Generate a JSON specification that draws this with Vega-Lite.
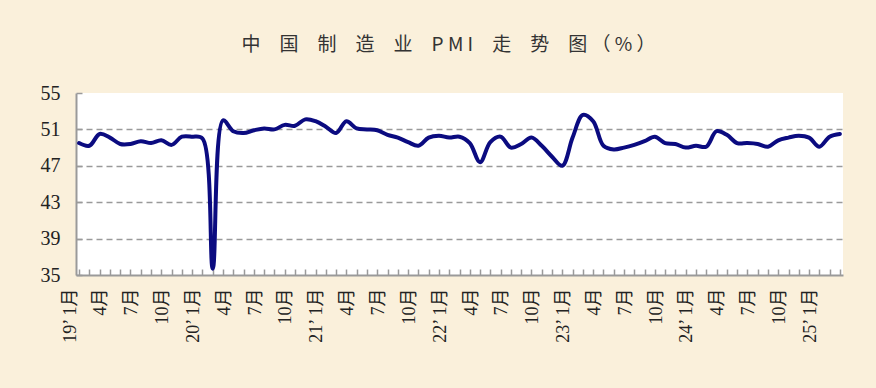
{
  "$schema": "https://vega.github.io/schema/vega-lite/v6.json",
  "autosize": {"type": "none"},
  "width": 767,
  "height": 182,
  "padding": {"left": 76, "top": 93, "right": 33, "bottom": 113},
  "background": "#FAF0DB",
  "title": {
    "text": "中　国　制　造　业　P M I　走　势　图 （ % ）",
    "font": "Noto Sans CJK SC",
    "fontSize": 19,
    "fontWeight": "normal",
    "color": "#333333",
    "anchor": "middle",
    "offset": 28,
    "dx": -11
  },
  "config": {
    "view": {"fill": "white", "stroke": null}
  },
  "data": {
    "values": [
      {"m": "2019-01", "pmi": 49.5}, {"m": "2019-02", "pmi": 49.2}, {"m": "2019-03", "pmi": 50.5}, {"m": "2019-04", "pmi": 50.1},
      {"m": "2019-05", "pmi": 49.4}, {"m": "2019-06", "pmi": 49.4}, {"m": "2019-07", "pmi": 49.7}, {"m": "2019-08", "pmi": 49.5},
      {"m": "2019-09", "pmi": 49.8}, {"m": "2019-10", "pmi": 49.3}, {"m": "2019-11", "pmi": 50.2}, {"m": "2019-12", "pmi": 50.2},
      {"m": "2020-01", "pmi": 50.0}, {"m": "2020-02", "pmi": 35.7}, {"m": "2020-03", "pmi": 52.0}, {"m": "2020-04", "pmi": 50.8},
      {"m": "2020-05", "pmi": 50.6}, {"m": "2020-06", "pmi": 50.9}, {"m": "2020-07", "pmi": 51.1}, {"m": "2020-08", "pmi": 51.0},
      {"m": "2020-09", "pmi": 51.5}, {"m": "2020-10", "pmi": 51.4}, {"m": "2020-11", "pmi": 52.1}, {"m": "2020-12", "pmi": 51.9},
      {"m": "2021-01", "pmi": 51.3}, {"m": "2021-02", "pmi": 50.6}, {"m": "2021-03", "pmi": 51.9}, {"m": "2021-04", "pmi": 51.1},
      {"m": "2021-05", "pmi": 51.0}, {"m": "2021-06", "pmi": 50.9}, {"m": "2021-07", "pmi": 50.4}, {"m": "2021-08", "pmi": 50.1},
      {"m": "2021-09", "pmi": 49.6}, {"m": "2021-10", "pmi": 49.2}, {"m": "2021-11", "pmi": 50.1}, {"m": "2021-12", "pmi": 50.3},
      {"m": "2022-01", "pmi": 50.1}, {"m": "2022-02", "pmi": 50.2}, {"m": "2022-03", "pmi": 49.5}, {"m": "2022-04", "pmi": 47.4},
      {"m": "2022-05", "pmi": 49.6}, {"m": "2022-06", "pmi": 50.2}, {"m": "2022-07", "pmi": 49.0}, {"m": "2022-08", "pmi": 49.4},
      {"m": "2022-09", "pmi": 50.1}, {"m": "2022-10", "pmi": 49.2}, {"m": "2022-11", "pmi": 48.0}, {"m": "2022-12", "pmi": 47.0},
      {"m": "2023-01", "pmi": 50.1}, {"m": "2023-02", "pmi": 52.6}, {"m": "2023-03", "pmi": 51.9}, {"m": "2023-04", "pmi": 49.2},
      {"m": "2023-05", "pmi": 48.8}, {"m": "2023-06", "pmi": 49.0}, {"m": "2023-07", "pmi": 49.3}, {"m": "2023-08", "pmi": 49.7},
      {"m": "2023-09", "pmi": 50.2}, {"m": "2023-10", "pmi": 49.5}, {"m": "2023-11", "pmi": 49.4}, {"m": "2023-12", "pmi": 49.0},
      {"m": "2024-01", "pmi": 49.2}, {"m": "2024-02", "pmi": 49.1}, {"m": "2024-03", "pmi": 50.8}, {"m": "2024-04", "pmi": 50.4},
      {"m": "2024-05", "pmi": 49.5}, {"m": "2024-06", "pmi": 49.5}, {"m": "2024-07", "pmi": 49.4}, {"m": "2024-08", "pmi": 49.1},
      {"m": "2024-09", "pmi": 49.8}, {"m": "2024-10", "pmi": 50.1}, {"m": "2024-11", "pmi": 50.3}, {"m": "2024-12", "pmi": 50.1},
      {"m": "2025-01", "pmi": 49.1}, {"m": "2025-02", "pmi": 50.2}, {"m": "2025-03", "pmi": 50.5}
    ]
  },
  "mark": {"type": "line", "interpolate": "catmull-rom", "color": "#0B0B80", "strokeWidth": 4, "strokeCap": "round", "strokeJoin": "round"},
  "encoding": {
    "x": {
      "field": "m",
      "type": "ordinal",
      "sort": null,
      "scale": {"type": "point", "padding": 0.3},
      "axis": {
        "title": null,
        "labelAngle": -90,
        "labelOffset": -9,
        "labelPadding": 19,
        "labelFont": "Liberation Serif, Noto Sans CJK SC",
        "labelFontSize": 18,
        "labelColor": "#222222",
        "labelOverlap": false,
        "labelExpr": "(toNumber(substring(datum.value,5,7)) % 3 == 1) ? ((substring(datum.value,5,7) == '01' ? substring(datum.value,2,4) + '’ ' : '') + toNumber(substring(datum.value,5,7)) + '月') : ''",
        "domainColor": "#9A9A9A",
        "domainWidth": 2,
        "tickColor": "#9A9A9A",
        "tickWidth": 1.5,
        "tickSize": -6,
        "grid": false
      }
    },
    "y": {
      "field": "pmi",
      "type": "quantitative",
      "scale": {"domain": [35, 55], "nice": false, "zero": false},
      "axis": {
        "title": null,
        "values": [35, 39, 43, 47, 51, 55],
        "labelFont": "Liberation Serif",
        "labelFontSize": 20,
        "labelColor": "#222222",
        "labelPadding": 22,
        "domainColor": "#9A9A9A",
        "domainWidth": 2,
        "tickColor": "#9A9A9A",
        "tickWidth": 1.5,
        "tickSize": -6,
        "grid": true,
        "gridColor": "#9A9A9A",
        "gridWidth": 1.5,
        "gridDash": [6, 4],
        "gridOpacity": {"condition": {"test": "datum.value == 35 || datum.value == 55", "value": 0}, "value": 1}
      }
    }
  }
}
